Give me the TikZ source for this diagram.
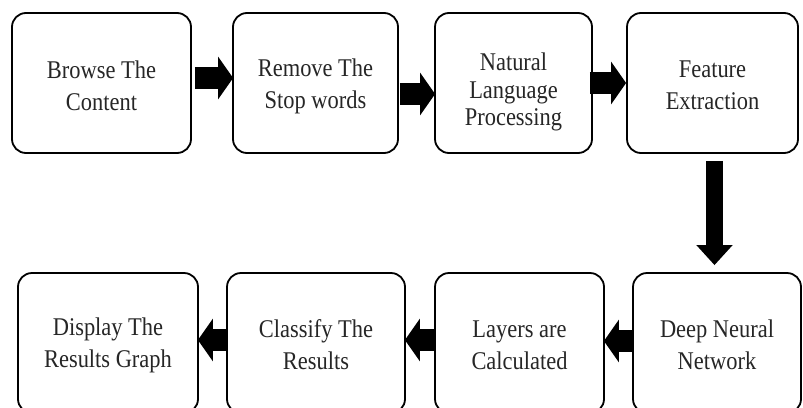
\documentclass[tikz,border=0pt]{standalone}
\usepackage{fontspec}
\setmainfont[FakeStretch=0.88]{Liberation Serif}
\usetikzlibrary{arrows.meta}
\tikzset{
  box/.style={draw=black, line width=1.8pt, rounded corners=14pt, fill=white,
    inner sep=0pt, minimum height=140pt},
  txt/.style={align=center, text=black!85, inner sep=0pt,
    font=\fontsize{25.5}{32}\selectfont},
  txtthree/.style={txt, font=\fontsize{25.5}{27.5}\selectfont},
  flow/.style={draw=black, line width=22pt,
    -{Triangle[width=42pt,length=15pt]}},
  flowv/.style={draw=black, line width=17pt,
    -{Triangle[width=35pt,length=20pt]}}
}
\begin{document}
\begin{tikzpicture}[x=1pt,y=-1pt]
\useasboundingbox (0,0) rectangle (803,407);
\clip (0,0) rectangle (803,407);
% top row
\node[box, minimum width=179pt, label={[txt,yshift=-3pt]center:Browse The\\Content}] (n1) at (101.5,83) {};
\node[box, minimum width=165pt, label={[txt,yshift=-3pt]center:Remove The\\Stop words}] (n2) at (315.5,83) {};
\node[box, minimum width=157pt, label={[txtthree,yshift=-9pt]center:Natural\\Language\\Processing}] (n3) at (513.5,83) {};
\node[box, minimum width=171pt, label={[txt,yshift=-2pt]center:Feature\\Extraction}] (n4) at (712.5,83) {};
% bottom row
\node[box, minimum width=180pt, label={[txt,yshift=-2pt]center:Display The\\Results Graph}] (n5) at (108,343) {};
\node[box, minimum width=178pt, label={[txt,yshift=-2pt]center:Classify The\\Results}] (n6) at (316,343) {};
\node[box, minimum width=169pt, label={[txt,yshift=-2pt]center:Layers are\\Calculated}] (n7) at (519.5,343) {};
\node[box, minimum width=168pt, label={[txt,yshift=-2pt]center:Deep Neural\\Network}] (n8) at (717,343) {};
% connectors
\draw[flow] ([xshift=3pt,yshift=5pt]n1.east) -- ([xshift=1pt,yshift=5pt]n2.west);
\draw[flow] ([xshift=1pt,yshift=-11pt]n2.east) -- ([xshift=1pt,yshift=-11pt]n3.west);
\draw[flow] ([xshift=-3pt,yshift=0pt]n3.east) -- ([xshift=0pt,yshift=0pt]n4.west);
\draw[flowv] ([xshift=2pt,yshift=-7pt]n4.south) -- ([xshift=-2.5pt,yshift=7pt]n8.north);
\draw[flow] ([yshift=2pt]n8.west) -- ([xshift=-1pt,yshift=2pt]n7.east);
\draw[flow] ([yshift=3pt]n7.west) -- ([xshift=-1pt,yshift=3pt]n6.east);
\draw[flow] ([yshift=3pt]n6.west) -- ([xshift=-1pt,yshift=3pt]n5.east);
\end{tikzpicture}
\end{document}
